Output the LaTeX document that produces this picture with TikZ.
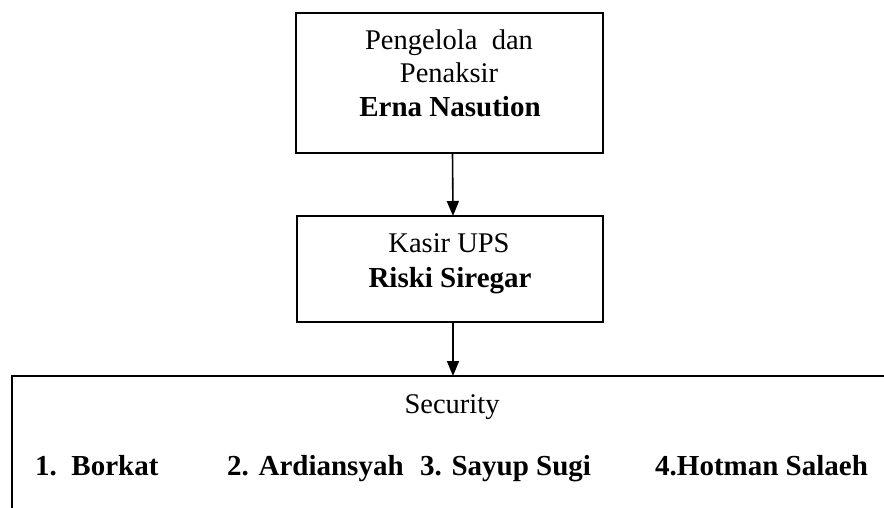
\documentclass[tikz,border=0pt]{standalone}
\usepackage{fontspec}
\setmainfont{Liberation Serif}
\usetikzlibrary{arrows.meta}
\begin{document}
\begin{tikzpicture}[x=1pt,y=-1pt,
  frame/.style={draw=black, line width=1.6pt, inner sep=0pt, outer sep=0pt},
  txt/.style={font=\fontsize{28.5}{34}\selectfont, align=center, inner sep=0pt},
  persontxt/.style={font=\fontsize{29}{34}\selectfont\bfseries, inner sep=0pt, anchor=base west},
  conn/.style={draw=black, line width=1.6pt, -{Triangle[length=15pt,width=12pt]}}]
\clip (0,0) rectangle (884,507);
\fill[white] (0,0) rectangle (884,507);
\node[frame, anchor=north west, minimum width=307pt, minimum height=140pt] (box1) at (296,13) {};
\node[frame, anchor=north west, minimum width=306pt, minimum height=106pt] (box2) at (297,216) {};
\node[frame, anchor=north west, minimum width=1000pt, minimum height=200pt] (box3) at (12,376) {};
\node[txt, anchor=base] (t1a) at (449,49) {Pengelola \ dan};
\node[txt, anchor=base] (t1b) at (449,82) {Penaksir};
\node[txt, anchor=base, font=\fontsize{29}{34}\selectfont\bfseries] (t1c) at (450,116) {Erna Nasution};
\node[txt, anchor=base] (t2a) at (449,252) {Kasir UPS};
\node[txt, anchor=base, font=\fontsize{29}{34}\selectfont\bfseries] (t2b) at (450,287) {Riski Siregar};
\node[txt, anchor=base] (t3) at (452,413) {Security};
\node[persontxt] (n1) at (35,475) {1.\ \ Borkat};
\node[persontxt] (n2) at (227,475) {2. Ardiansyah};
\node[persontxt] (n3) at (420,475) {3. Sayup Sugi};
\node[persontxt] (n4) at (655,475) {4.Hotman Salaeh};
\draw[conn] ([xshift=3pt]box1.south) -- ([xshift=3pt]box2.north);
\draw[conn] ([xshift=3pt]box2.south) -- ([xshift=3pt]box2.south |- box3.north);
\end{tikzpicture}
\end{document}
